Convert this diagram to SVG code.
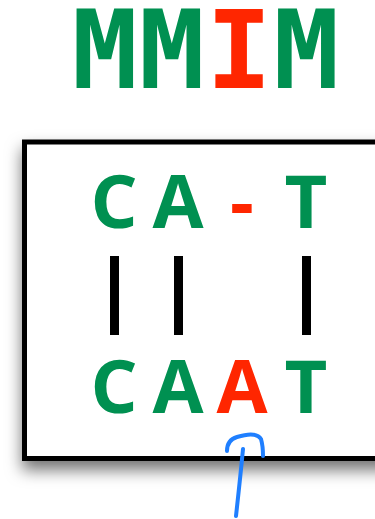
<svg xmlns="http://www.w3.org/2000/svg" width="375" height="519" viewBox="0 0 375 519">
<style>
.title{font-family:"DejaVu Sans Mono",monospace;font-weight:bold;font-size:109px;letter-spacing:1.5px}
.nt{font-family:"Open Sans","Noto Sans",sans-serif;font-weight:bold;font-size:74px;text-anchor:middle}
.g{fill:#009051}
.r{fill:#FF2600}
.bar{fill:#000}
</style>
<defs>
<filter id="sh" x="-20%" y="-20%" width="140%" height="150%">
<feDropShadow dx="0" dy="9" stdDeviation="8" flood-color="#000" flood-opacity="0.55"/>
</filter>
</defs>
<g id="title">
<text class="title" x="72" y="88"><tspan class="g">MM</tspan><tspan class="r">I</tspan><tspan class="g">M</tspan></text>
</g>
<g id="box">
<rect x="24.5" y="142" width="380" height="316.5" fill="#fff" stroke="#000" stroke-width="5" filter="url(#sh)"/>
</g>
<g id="top-row">
<text class="nt g" x="114" y="228">C</text>
<text class="nt g" x="178" y="228">A</text>
<text class="nt r" x="242" y="228">-</text>
<text class="nt g" x="306" y="228">T</text>
</g>
<g id="bars">
<rect class="bar" x="110" y="256" width="9" height="79"/>
<rect class="bar" x="174" y="256" width="9" height="79"/>
<rect class="bar" x="302" y="256" width="9" height="79"/>
</g>
<g id="bottom-row">
<text class="nt g" x="114" y="413">C</text>
<text class="nt g" x="178" y="413">A</text>
<text class="nt r" x="242" y="413">A</text>
<text class="nt g" x="306" y="413">T</text>
</g>
<g id="connectors" fill="none" stroke="#1F7FFF" stroke-width="4" stroke-linecap="round">
<path d="M236 516 Q240 480 243 449"/>
<path d="M227 451 Q227 440 237 437 Q256 431 261 439 Q263 446 263 456"/>
</g>
</svg>
